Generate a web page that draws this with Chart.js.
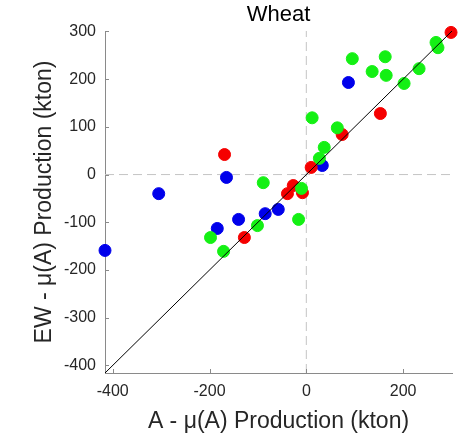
<!DOCTYPE html>
<html>
<head>
<meta charset="utf-8">
<script src="https://cdn.jsdelivr.net/npm/chart.js@4/dist/chart.umd.min.js"></script>
<style>
  html, body { margin: 0; padding: 0; background: #ffffff; }
  #wrap { width: 467px; height: 435px; position: relative; }
</style>
</head>
<body>
<div id="wrap"><canvas id="c" width="467" height="435"></canvas></div>
<script>
// ---- data ----
const chartTitle = 'Wheat';
const xLabel = 'A - μ(A) Production (kton)';
const yLabel = 'EW - μ(A) Production (kton)';
const axisMin = -416;
const axisMax = 301;
const xTicks = [-400, -200, 0, 200];
const yTicks = [-400, -300, -200, -100, 0, 100, 200, 300];

const redX = [299, 153, 74, 10, -27, -39, -8, -169, -128];
const redY = [298, 128, 84, 15, -23, -40, -38, 42, -132];

const blueX = [87, 33, -165, -305, -416, -140, -184, -85, -58];
const blueY = [193, 19, -6, -40, -159, -94, -113, -82, -73];

const greenX = [268, 272, 95, 163, 136, 165, 233, 202, 12, 64, 37, 27, -10, -89, -198, -171, -101, -16];
const greenY = [277, 266, 243, 247, 216, 208, 222, 191, 119, 98, 57, 34, -29, -17, -132, -161, -107, -94];

// ---- build ----
const pts = (xs, ys) => xs.map((x, i) => ({ x: x, y: ys[i] }));
const FONT = "'Liberation Sans', Arial, Helvetica, sans-serif";
const AXIS_COLOR = '#8a8a8a';
const TEXT_COLOR = '#262626';

function scatterSet(label, xs, ys, color, order) {
  return {
    type: 'scatter', label: label, data: pts(xs, ys),
    backgroundColor: color, borderColor: color, borderWidth: 1,
    pointRadius: 6, pointHoverRadius: 6, clip: false, order: order
  };
}
function lineSet(label, data, color, dash, order) {
  return {
    type: 'line', label: label, data: data, showLine: true,
    borderColor: color, borderWidth: 1, borderDash: dash,
    pointRadius: 0, pointHoverRadius: 0, fill: false, order: order, clip: false
  };
}

const inwardTicks = {
  id: 'inwardTicks',
  afterDatasetsDraw(chart) {
    const { ctx, chartArea: a, scales: { x, y } } = chart;
    ctx.save();
    ctx.strokeStyle = AXIS_COLOR;
    ctx.lineWidth = 1;
    ctx.beginPath();
    xTicks.forEach(v => {
      const px = Math.round(x.getPixelForValue(v)) + 0.5;
      ctx.moveTo(px, a.bottom); ctx.lineTo(px, a.bottom - 4);
    });
    yTicks.forEach(v => {
      const py = Math.round(y.getPixelForValue(v)) + 0.5;
      ctx.moveTo(a.left, py); ctx.lineTo(a.left + 4, py);
    });
    ctx.stroke();
    ctx.restore();
  }
};

new Chart(document.getElementById('c'), {
  data: {
    datasets: [
      lineSet('diagonal', [{ x: axisMin, y: axisMin }, { x: axisMax, y: axisMax }], '#000000', [], 0),
      scatterSet('green', greenX, greenY, 'rgb(20,240,20)', 1),
      scatterSet('red', redX, redY, 'rgb(245,0,0)', 2),
      scatterSet('blue', blueX, blueY, 'rgb(0,0,235)', 3),
      lineSet('zeroY', [{ x: axisMin, y: 0 }, { x: axisMax, y: 0 }], '#c4c4c4', [9, 5], 4),
      lineSet('zeroX', [{ x: 0, y: axisMin }, { x: 0, y: axisMax }], '#c4c4c4', [9, 5], 4)
    ]
  },
  options: {
    responsive: false,
    animation: false,
    events: [],
    layout: { padding: { left: 0, right: 15, top: 0, bottom: 0 } },
    plugins: {
      legend: { display: false },
      tooltip: { enabled: false },
      title: { display: false }
    },
    scales: {
      x: {
        type: 'linear', position: 'bottom', min: axisMin, max: axisMax,
        afterBuildTicks: s => { s.ticks = xTicks.map(v => ({ value: v })); },
        afterFit: s => { s.height = 62; },
        grid: { display: false, drawTicks: false },
        border: { display: true, color: AXIS_COLOR, width: 1 },
        ticks: { color: TEXT_COLOR, font: { family: FONT, size: 16 }, padding: 9, maxRotation: 0 },
        title: {
          display: true, text: xLabel, color: TEXT_COLOR,
          font: { family: FONT, size: 23, lineHeight: 1.2 }, padding: { top: 0, bottom: 0 }
        }
      },
      xTop: {
        type: 'linear', position: 'top', min: axisMin, max: axisMax,
        afterBuildTicks: s => { s.ticks = []; },
        afterFit: s => { s.height = 31; },
        grid: { display: false, drawTicks: false },
        border: { display: false },
        ticks: { display: false },
        title: {
          display: true, text: chartTitle, color: '#000000',
          font: { family: FONT, size: 22, lineHeight: 1.2 }, padding: { top: 2, bottom: 0 }
        }
      },
      y: {
        type: 'linear', position: 'left', min: axisMin, max: axisMax,
        afterBuildTicks: s => { s.ticks = yTicks.map(v => ({ value: v })); },
        afterFit: s => { s.width = 105; },
        grid: { display: false, drawTicks: false },
        border: { display: true, color: AXIS_COLOR, width: 1 },
        ticks: { color: TEXT_COLOR, font: { family: FONT, size: 16 }, padding: 9 },
        title: {
          display: true, text: yLabel, color: TEXT_COLOR,
          font: { family: FONT, size: 23, lineHeight: 1.2 }, padding: { top: 31, bottom: 0 }
        }
      }
    }
  },
  plugins: [inwardTicks]
});
</script>
</body>
</html>
